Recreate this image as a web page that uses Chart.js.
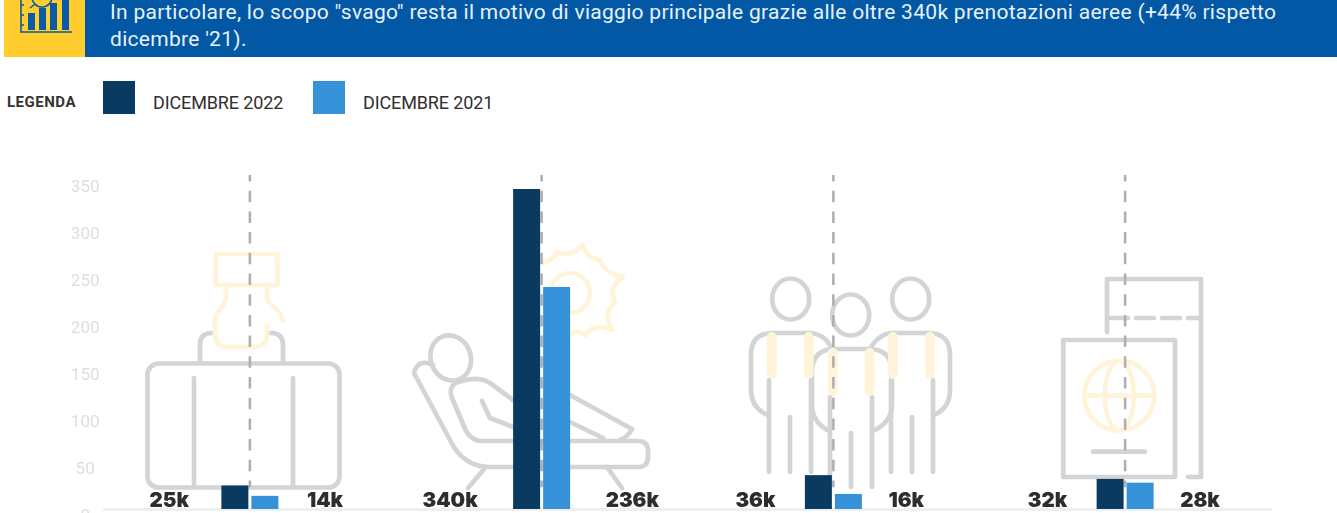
<!DOCTYPE html>
<html lang="it">
<head>
<meta charset="utf-8">
<title>Prenotazioni aeree per motivo di viaggio</title>
<script src="https://cdn.jsdelivr.net/npm/chart.js@4/dist/chart.umd.min.js"></script>
<style>
  html, body { margin: 0; padding: 0; background: #fff; width: 1337px; height: 513px; overflow: hidden; font-family: Roboto, sans-serif; }
  .badge { position: absolute; left: 4px; top: 0; width: 81px; height: 57px; background: #ffcd2e; }
  .banner { position: absolute; left: 85px; top: 0; width: 1252px; height: 57px; background: #0258a5; color: #e9f1f9; font-size: 21px; line-height: 27px; }
  .banner p { margin: 0; position: absolute; left: 25px; top: -1px; white-space: nowrap; letter-spacing: 0.29px; }
  .legend-title { position: absolute; left: 7px; top: 94px; font-size: 15px; font-weight: 700; line-height: 16px; color: #333; letter-spacing: 0.5px; }
  .swatch { position: absolute; top: 81px; width: 32px; height: 33px; }
  .legend-text { position: absolute; top: 92px; font-size: 18px; line-height: 21px; color: #2f2f2f; letter-spacing: -0.13px; }
  svg { position: absolute; left: 0; top: 0; }
  canvas { position: absolute; left: 0; top: 0; }
  .grey { fill: none; stroke: #d3d4d6; stroke-width: 4.7; stroke-linecap: round; stroke-linejoin: round; }
  .sand { fill: none; stroke: #fff4d9; stroke-width: 4.7; stroke-linecap: round; stroke-linejoin: round; }
  .arm { stroke-width: 10; }
</style>
</head>
<body>
<div class="badge"></div>
<div class="banner"><p>In particolare, lo scopo "svago" resta il motivo di viaggio principale grazie alle oltre 340k prenotazioni aeree (+44% rispetto<br>dicembre '21).</p></div>

<svg width="1337" height="513" id="art">
  <!-- badge icon -->
  <g fill="none" stroke="#0a5aa6" stroke-width="1.6">
    <path d="M21 0V32H72M21 5H24M21 15H24M21 25H24"/>
    <circle cx="42" cy="-3" r="10"/>
    <path d="M35 4L30 8"/>
  </g>
  <g fill="#0a5aa6">
    <rect x="28" y="13" width="7" height="17"/>
    <rect x="39" y="8" width="7" height="22"/>
    <rect x="50" y="3" width="7" height="27"/>
    <rect x="62" y="0" width="7" height="30"/>
  </g>

  <!-- suitcase -->
  <rect class="grey" x="147.5" y="363.5" width="192" height="124" rx="11"/>
  <path class="grey" d="M194 378V487M293 378V487M200 362V345Q200 333 212 333M283 362V345Q283 333 271 333"/>
  <rect class="sand" x="215.5" y="254" width="62" height="31"/>
  <path class="sand" d="M226 287V296Q226 302 220 309Q215 315 215 323V335Q215 347 228 347H252Q267 347 267 335V326M267 287V297Q267 301 274 307Q281 313 283 321"/>

  <!-- lounger and sun -->
  <ellipse class="grey" cx="450.7" cy="358" rx="20" ry="23" transform="rotate(-20 450.7 358)"/>
  <path class="grey" d="M433 365Q418 358 414 373L450 440Q463 467 490 467H638Q648 467 648 457V451Q648 441 638 441H482Q472 441 466 431L452 398Q447 384 462 381Q478 376 490 383L513 400"/>
  <path class="grey" d="M482 401L490 418L513 427M570 395L632 429Q628 437 620 440M570 422L603 438M485 468L468 488M607 467L622 488"/>
  <circle class="sand" cx="570" cy="293" r="20"/>
  <path class="sand" d="M543 262Q552 262 557 252Q570 258 583 245Q586 258 600 260Q603 272 623 277Q607 288 615 302Q602 314 612 330Q595 322 585 335Q578 328 570 335"/>

  <!-- three people -->
  <ellipse class="grey" cx="790.7" cy="299" rx="18.5" ry="20.5"/>
  <ellipse class="grey" cx="850.7" cy="315" rx="18.5" ry="20.5"/>
  <ellipse class="grey" cx="910.7" cy="299" rx="18.5" ry="20.5"/>
  <path class="grey" d="M768 415Q751 408 751 390V355Q751 333 773 333H808Q824 333 831 347M871 347Q880 333 893 333H928Q950 333 950 355V390Q950 408 934 415"/>
  <path class="grey" d="M769 380V472M790 417V472M811 380V472M891 380V472M912 417V472M933 380V472"/>
  <path class="grey" d="M829 431Q812 422 812 405V372Q812 349 835 349H868Q892 349 892 372V405Q892 422 873 431"/>
  <path class="grey" d="M830 397V487M851 433V487M872 397V487"/>
  <path class="sand arm" d="M771.7 337V374M808.7 337V374M893 337V374M930 337V374M832.7 353V391M869.7 353V391"/>

  <!-- passport -->
  <path class="grey" d="M1107 332V279H1201V477H1188"/>
  <path class="grey" d="M1110 318H1201" stroke-dasharray="18 8"/>
  <rect class="grey" x="1063.3" y="340" width="111.7" height="137"/>
  <circle class="sand" cx="1119.3" cy="395.7" r="35"/>
  <ellipse class="sand" cx="1119.3" cy="395.7" rx="14.5" ry="35"/>
  <path class="sand" d="M1084.3 395.7H1154.3"/>
  <path class="grey" d="M1093 451.7H1145"/>
</svg>

<div class="legend-title">LEGENDA</div>
<div id="legend"></div>
<canvas id="chart" width="1337" height="560"></canvas>

<script>
let categories = ['Lavoro', 'Svago', 'Famiglia', 'Estero'];
let seriesNames = ['DICEMBRE 2022', 'DICEMBRE 2021'];
let values2022 = [25, 340, 36, 32];
let values2021 = [14, 236, 16, 28];
let yTicks = [0, 50, 100, 150, 200, 250, 300, 350];
let darkBlue = '#0a3a60';
let lightBlue = '#3592d8';

// legend is plain html, sits above the chart
let legendBoxes = [[103, 153], [313, 363]];
let legend = document.querySelector('#legend');
seriesNames.forEach((name, i) => {
    let color = i == 0 ? darkBlue : lightBlue;
    legend.innerHTML += `
        <div class="swatch" style="left:${legendBoxes[i][0]}px;background:${color}"></div>
        <div class="legend-text" style="left:${legendBoxes[i][1]}px">${name}</div>`;
});

// dashed rule through each group, stops short of the axis
const groupRules = {
    id: 'groupRules',
    beforeDatasetsDraw(chart) {
        let x = chart.scales.x;
        let y = chart.scales.y;
        let ctx = chart.ctx;
        ctx.save();
        ctx.strokeStyle = '#adaeb1';
        ctx.lineWidth = 2.5;
        ctx.setLineDash([11.5, 9.2]);
        ctx.lineDashOffset = 5;
        categories.forEach((c, i) => {
            let px = x.getPixelForValue(i);
            ctx.beginPath();
            ctx.moveTo(px, chart.chartArea.top);
            ctx.lineTo(px, y.getPixelForValue(23));
            ctx.stroke();
        });
        ctx.restore();
    }
};

// the "25k" style numbers either side of the bars
const sideLabels = {
    id: 'sideLabels',
    afterDatasetsDraw(chart) {
        let x = chart.scales.x;
        let ctx = chart.ctx;
        let gapsLeft = [61, 64, 58, 58];
        let gapsRight = [57, 64, 55, 55];
        ctx.save();
        ctx.font = '900 20.5px Inter';
        ctx.fillStyle = '#2d2d2d';
        categories.forEach((c, i) => {
            let px = x.getPixelForValue(i);
            ctx.textAlign = 'right';
            ctx.fillText(values2022[i] + 'k', px - gapsLeft[i], chart.chartArea.bottom - 2);
            ctx.textAlign = 'left';
            ctx.fillText(values2021[i] + 'k', px + gapsRight[i], chart.chartArea.bottom - 2);
        });
        ctx.restore();
    }
};

new Chart(document.querySelector('#chart'), {
    type: 'bar',
    data: {
        labels: categories,
        datasets: [
            { label: seriesNames[0], data: values2022, backgroundColor: darkBlue },
            { label: seriesNames[1], data: values2021, backgroundColor: lightBlue }
        ]
    },
    options: {
        responsive: false,
        animation: false,
        layout: { padding: { top: 175, right: 66, bottom: 51, left: 0 } },
        datasets: { bar: { categoryPercentage: 0.2057, barPercentage: 0.9 } },
        plugins: { legend: { display: false }, tooltip: { enabled: false } },
        scales: {
            x: {
                afterFit: s => { s.height = 0; },
                grid: { display: false },
                border: { color: '#eef0f0', width: 3 },
                ticks: { display: false }
            },
            y: {
                min: 0,
                max: 355,
                afterFit: s => { s.width = 104; },
                afterBuildTicks: s => { s.ticks = yTicks.map(v => ({ value: v })); },
                grid: { display: false, tickLength: 0 },
                border: { display: false },
                ticks: {
                    color: '#dcdddd',
                    font: { family: 'Roboto', size: 17 },
                    crossAlign: 'center',
                    padding: 4.5,
                    labelOffset: 8
                }
            }
        }
    },
    plugins: [groupRules, sideLabels]
});
</script>
</body>
</html>
